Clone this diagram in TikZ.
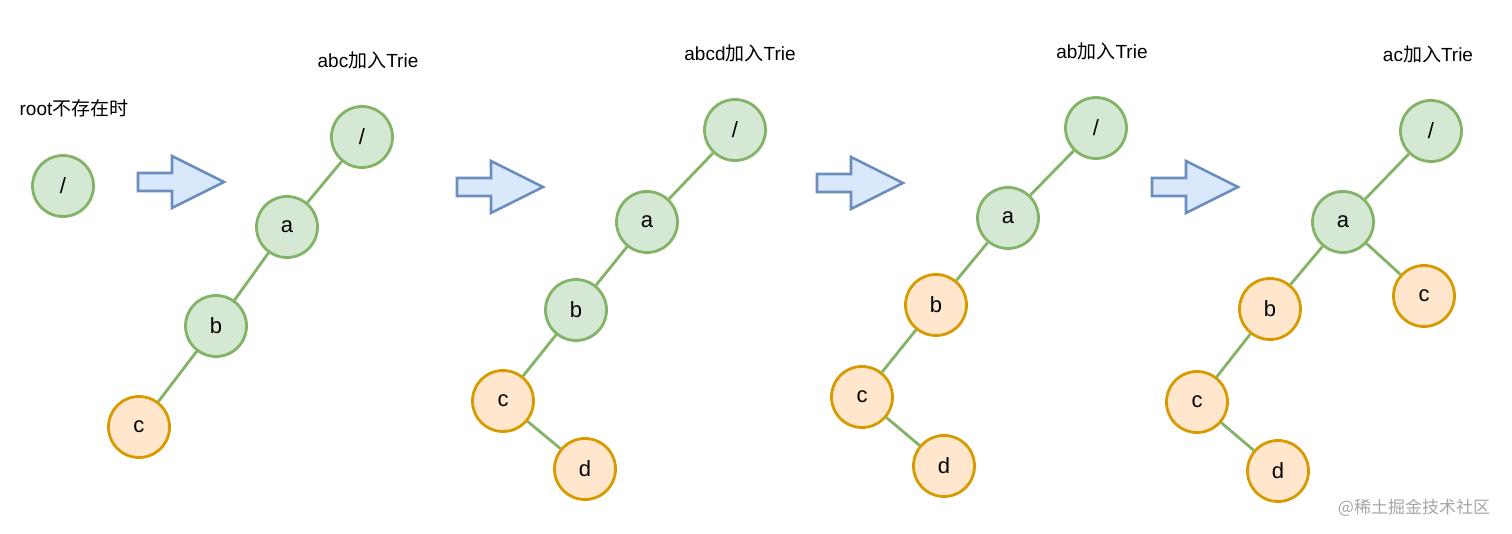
\documentclass[tikz,border=0pt]{standalone}
\usepackage{fontspec}
\setmainfont{Liberation Sans}
\newfontfamily\cjk{Noto Sans CJK SC}
\usepackage{xcolor}
\usepackage{tikz}

\definecolor{greenfill}{HTML}{D5E8D4}
\definecolor{greenline}{HTML}{82B366}
\definecolor{orangefill}{HTML}{FFE6CC}
\definecolor{orangeline}{HTML}{D79B00}
\definecolor{arrowfill}{HTML}{DAE8FC}
\definecolor{arrowline}{HTML}{6C8EBF}

\tikzset{
  greennode/.style={circle, draw=greenline, fill=greenfill, line width=1.4pt,
    minimum size=30.5pt, inner sep=0pt, font=\fontsize{11}{13}\selectfont},
  orangenode/.style={greennode, draw=orangeline, fill=orangefill},
  branch/.style={draw=greenline, line width=1.4pt},
  bigarrow/.style={draw=arrowline, fill=arrowfill, line width=1.3pt, line join=miter},
  title/.style={font=\fontsize{9.5}{11}\selectfont}
}

\begin{document}
\begin{tikzpicture}[x=0.5pt, y=-0.5pt]
    \useasboundingbox (0,0) rectangle (1512,534);

    % Frecce blu
    \foreach \x/\y in {138/182, 457/187, 817/183, 1152/187} {
        \draw[bigarrow] (\x,\y-9) -- (\x+34,\y-9) -- (\x+34,\y-26) -- (\x+86,\y)
            -- (\x+34,\y+26) -- (\x+34,\y+9) -- (\x,\y+9) -- cycle;
    }

    % root non esiste
    \node[title] (t0) at (74,108) {root{\cjk 不存在时}};
    \node[greennode] (r0) at (63,186) {/};

    % abc
    \node[title] (t1) at (368,60) {abc{\cjk 加入}Trie};
    \node[greennode] (r1) at (362,137) {/};
    \node[greennode] (a1) at (287,227) {a};
    \node[greennode] (b1) at (216,326) {b};
    \node[orangenode] (c1) at (139,427) {c};
    \draw[branch] (r1) -- (a1) (a1) -- (b1) (b1) -- (c1);

    % abcd
    \node[title] (t2) at (740,53) {abcd{\cjk 加入}Trie};
    \node[greennode] (r2) at (735,130) {/};
    \node[greennode] (a2) at (647,222) {a};
    \node[greennode] (b2) at (576,310) {b};
    \node[orangenode] (c2) at (503,401) {c};
    \node[orangenode] (d2) at (585,469) {d};
    \draw[branch] (r2) -- (a2) (a2) -- (b2) (b2) -- (c2) (c2) -- (d2);

    % ab
    \node[title] (t3) at (1102,51) {ab{\cjk 加入}Trie};
    \node[greennode] (r3) at (1096,128) {/};
    \node[greennode] (a3) at (1008,218) {a};
    \node[orangenode] (b3) at (936,305) {b};
    \node[orangenode] (c3) at (862,397) {c};
    \node[orangenode] (d3) at (944,466) {d};
    \draw[branch] (r3) -- (a3) (a3) -- (b3) (b3) -- (c3) (c3) -- (d3);

    % ac
    \node[title] (t4) at (1428,54) {ac{\cjk 加入}Trie};
    \node[greennode] (r4) at (1431,131) {/};
    \node[greennode] (a4) at (1343,222) {a};
    \node[orangenode] (b4) at (1270,309) {b};
    \node[orangenode] (c4) at (1197,402) {c};
    \node[orangenode] (d4) at (1278,471) {d};
    \node[orangenode] (e4) at (1424,296) {c};
    \draw[branch] (r4) -- (a4) (a4) -- (b4) (b4) -- (c4) (c4) -- (d4) (a4) -- (e4);

    \node[text=black!35, font=\cjk\fontsize{8.5}{10}\selectfont] (wm) at (1414,508) {@稀土掘金技术社区};
\end{tikzpicture}
\end{document}
